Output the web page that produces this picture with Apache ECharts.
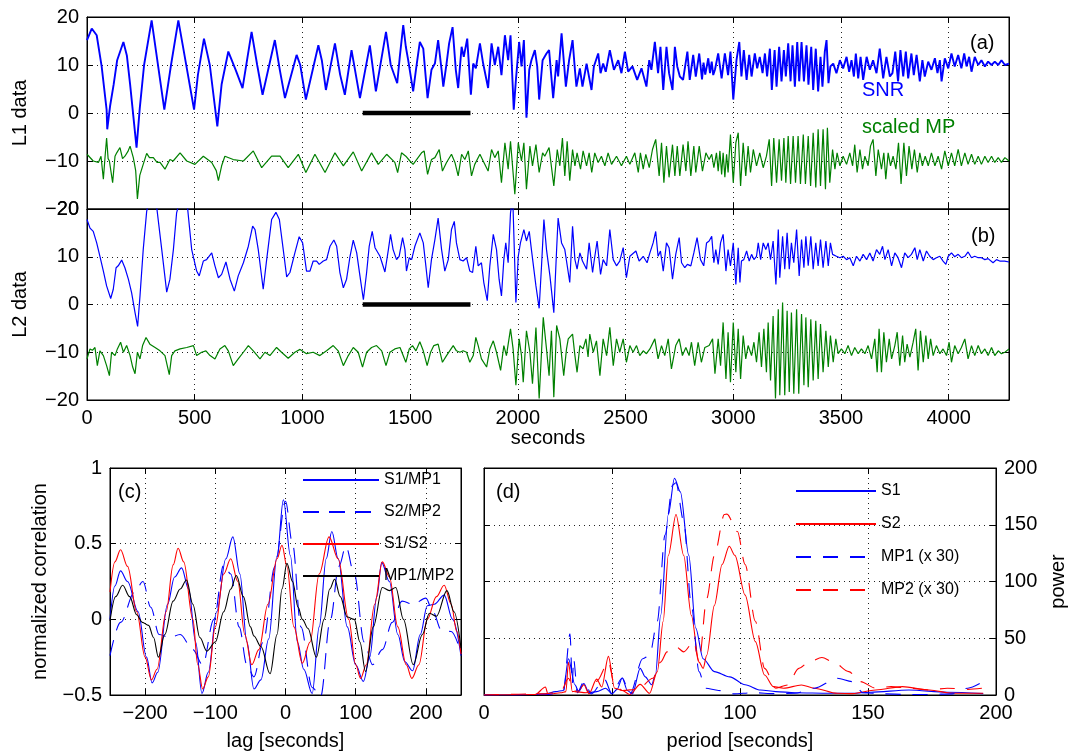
<!DOCTYPE html>
<html><head><meta charset="utf-8">
<script src="https://cdn.jsdelivr.net/npm/echarts@6/dist/echarts.min.js"></script>
<style>html,body{margin:0;padding:0;background:#fff}#c{width:1070px;height:756px}</style>
</head><body><div id="c"></div>
<script>
// ---------------- data ----------------
const X_MAX = 4280;
const WINDOW_L1 = [[1280,0],[1780,0]];
const WINDOW_L2 = [[1280,0],[1780,0]];

const L1_SNR = [[0,15.2],[22,17.6],[45,16.2],[68,9.7],[91,0.7],[94,-3.4],[107,1.4],[124,6.0],[140,11.0],[169,14.8],[185,12.0],[200,6.0],[230,-7.2],[245,1.0],[265,10.0],[300,19.3],[320,13.0],[359,0.7],[390,10.0],[424,19.3],[445,14.0],[497,0.7],[515,8.0],[543,15.5],[570,10.0],[605,-2.8],[625,6.0],[656,12.8],[690,9.0],[722,5.2],[764,16.9],[790,10.0],[815,3.8],[872,15.2],[895,9.0],[919,3.1],[973,12.1],[990,10.0],[1016,2.8],[1074,14.1],[1090,11.0],[1109,4.8],[1151,14.5],[1175,8.0],[1197,3.8],[1228,13.1],[1267,3.1],[1313,14.1],[1341,4.5],[1388,16.9],[1410,10.0],
[1440,6.2],[1452,11.7],[1468,18.3],[1480,13.8],[1491,11.0],[1514,4.5],[1527,9.0],[1545,14.8],[1561,13.4],[1568,9.7],[1581,3.1],[1599,9.0],[1615,10.3],[1630,15.2],[1646,9.0],[1654,5.5],[1669,10.3],[1681,14.5],[1697,17.9],[1712,9.0],[1723,5.2],[1739,13.8],[1749,11.7],[1765,15.5],[1782,3.8],[1793,10.3],[1805,9.3],[1824,14.5],[1839,10.3],[1862,5.2],[1878,14.5],[1893,10.0],[1909,13.8],[1924,7.9],[1940,16.2],[1955,11.0],[1966,16.2],[1981,0.7],[1991,6.9],[2006,14.8],[2017,9.7],[2028,15.2],[2040,-1.0],[2053,9.0],[2063,11.0],[2079,13.1],[2090,9.7],[2099,2.8],[2115,11.0],[2133,12.4],[2145,13.1],[2164,3.1],[2180,11.0],[2187,7.6],[2203,16.6],[2223,5.5],[2238,11.0],[2254,15.2],[2265,9.0],[2272,5.5],[2288,9.3],[2300,5.5],[2319,10.3],[2342,4.8],[2353,9.7],[2373,12.4],[2384,8.3],[2396,10.3],[2408,8.6],[2427,13.1],[2446,9.0],[2466,11.0],[2481,8.3],[2497,12.8],[2512,8.6],[2532,9.7],[2554,6.9],[2574,9.3],[2597,5.5],[2610,11.0],[2620,9.0],[2636,14.8],[2651,8.3],[2662,13.8],[2675,4.8],[2690,13.8],[2702,8.3],[2718,4.8],[2729,13.8],[2740,9.7],[2752,7.6],[2767,6.9],[2787,12.8],[2798,6.9],[2814,12.1],[2826,7.6],[2842,12.4],
[2855,7.0],[2862,10.5],[2870,8.0],[2884,11.4],[2892,8.3],[2900,10.7],[2907,7.9],[2915,9.0],[2930,12.4],[2946,7.2],[2961,12.4],[2976,7.9],[2987,12.8],[3000,2.8],[3015,11.0],[3028,14.8],[3038,7.6],[3049,13.1],[3062,6.9],[3074,12.1],[3085,7.6],[3100,12.4],[3111,9.3],[3123,11.7],[3136,8.3],[3147,12.4],[3157,7.6],[3170,13.4],[3179,4.8],[3192,13.1],[3201,5.5],[3213,13.8],[3224,6.6],[3235,13.1],[3244,7.6],[3255,14.5],[3266,6.6],[3275,14.1],[3286,5.5],[3297,14.8],[3306,6.6],[3317,14.8],[3328,6.6],[3340,14.1],[3349,5.9],[3362,13.8],[3371,4.8],[3383,13.4],[3394,4.5],[3405,11.7],[3414,5.5],[3425,12.8],[3433,15.2],[3442,6.2],[3451,9.7],[3464,10.3],[3479,8.3],[3495,11.0],[3510,9.3],[3526,11.7],[3538,8.6],[3549,11.0],[3560,7.6],[3569,12.4],[3580,7.2],[3591,11.7],[3603,6.9],[3619,11.7],[3634,9.0],[3649,11.0],[3665,8.3],[3680,13.4],[3696,7.2],[3711,11.7],[3727,7.6],[3739,8.3],[3752,12.8],[3765,6.6],[3776,13.1],[3789,7.6],[3801,12.8],[3812,7.2],[3827,12.4],[3838,7.9],[3851,12.1],[3866,6.6],[3878,11.0],[3889,7.6],[3905,10.7],[3920,9.0],[3936,11.4],[3948,8.3],[3959,11.0],[3967,6.6],[3982,11.4],[3998,9.3],[4013,12.4],[4028,9.7],[4044,12.1],[4059,9.3],[4072,12.4],[4083,9.7],[4095,11.7],[4106,8.6],[4121,11.7],[4137,10.0],[4152,11.0],[4168,9.7],[4183,10.7],[4199,10.0],[4214,10.7],[4230,10.0],[4245,11.0],[4261,10.0],[4280,10.3]];

const L1_MP = [[0,-8.6],[29,-10.0],[53,-10.3],[65,-9.0],[76,-13.8],[84,-9.0],[91,-5.2],[98,-9.5],[104,-10.0],[119,-14.5],[130,-9.0],[138,-8.3],[153,-7.2],[165,-9.5],[176,-9.0],[190,-8.0],[200,-6.9],[215,-9.3],[226,-12.0],[234,-17.9],[245,-13.0],[254,-11.7],[277,-8.4],[290,-9.3],[308,-9.3],[325,-10.3],[339,-10.3],[362,-11.7],[385,-9.7],[400,-10.0],[432,-8.3],[463,-10.0],[501,-10.7],[540,-9.0],[579,-10.3],[600,-12.0],[610,-14.1],[625,-11.0],[640,-9.0],[679,-9.7],[726,-10.0],[772,-7.9],[811,-11.4],[857,-9.0],[896,-9.0],[934,-11.4],[981,-8.6],[1016,-12.4],[1058,-8.6],[1105,-12.4],[1151,-8.3],[1190,-11.0],[1236,-8.1],[1275,-12.1],[1321,-8.3],[1352,-10.7],[1391,-8.6],[1429,-10.3],[1442,-12.4],[1460,-8.3],
[1480,-9.0],[1499,-10.0],[1514,-10.7],[1530,-9.7],[1553,-8.3],[1565,-7.9],[1581,-12.8],[1599,-9.7],[1615,-9.3],[1635,-7.6],[1650,-12.1],[1669,-10.3],[1692,-8.6],[1708,-10.3],[1723,-13.1],[1739,-8.6],[1754,-9.7],[1770,-7.9],[1785,-13.1],[1800,-10.7],[1824,-8.6],[1839,-10.0],[1862,-12.1],[1878,-7.6],[1893,-9.3],[1909,-7.9],[1924,-14.5],[1940,-6.2],[1955,-11.7],[1966,-5.9],[1986,-16.9],[2002,-6.2],[2017,-10.0],[2028,-6.2],[2040,-15.9],[2056,-6.9],[2068,-11.0],[2084,-6.6],[2099,-12.4],[2115,-8.3],[2125,-9.0],[2145,-7.2],[2167,-15.2],[2183,-7.6],[2195,-11.0],[2207,-5.2],[2218,-13.1],[2229,-5.9],[2241,-14.1],[2254,-7.6],[2265,-11.0],[2275,-8.3],[2291,-11.7],[2303,-7.9],[2319,-11.0],[2331,-8.3],[2343,-12.4],[2357,-8.3],[2373,-10.3],[2388,-9.0],[2404,-11.0],[2419,-8.3],[2435,-10.7],[2458,-9.0],[2481,-11.0],[2504,-9.0],[2520,-10.7],[2543,-8.3],[2559,-12.4],[2569,-8.3],[2582,-11.7],[2594,-8.6],[2610,-11.4],[2625,-7.6],[2640,-5.5],[2656,-13.1],[2667,-6.2],[2678,-14.5],[2690,-6.9],[2702,-13.4],[2718,-6.6],[2729,-13.1],[2740,-6.9],[2752,-13.1],[2767,-6.6],[2780,-12.1],[2790,-5.9],[2803,-13.1],[2817,-6.9],[2826,-12.4],[2842,-6.9],[2857,-12.1],[2873,-8.3],[2888,-9.7],
[2900,-8.6],[2910,-11.4],[2922,-8.3],[2930,-12.1],[2938,-7.9],[2946,-12.8],[2953,-8.3],[2961,-13.4],[2969,-8.6],[2976,-12.4],[2987,-4.5],[3000,-14.5],[3012,-6.2],[3023,-4.1],[3034,-15.2],[3046,-6.2],[3058,-13.1],[3069,-6.9],[3080,-12.4],[3093,-7.6],[3108,-11.0],[3123,-8.3],[3139,-11.4],[3154,-9.0],[3167,-5.5],[3178,-15.2],[3188,-5.2],[3201,-14.5],[3213,-5.5],[3224,-14.1],[3235,-5.2],[3244,-14.5],[3255,-4.8],[3266,-14.8],[3278,-4.8],[3289,-14.5],[3301,-4.8],[3312,-14.8],[3325,-4.5],[3335,-14.8],[3348,-4.8],[3359,-15.2],[3371,-4.1],[3383,-15.5],[3394,-3.4],[3405,-15.2],[3417,-3.4],[3428,-15.9],[3437,-3.1],[3448,-14.5],[3461,-7.6],[3472,-11.7],[3482,-8.3],[3495,-11.0],[3510,-9.0],[3526,-10.7],[3541,-8.3],[3554,-11.0],[3564,-6.6],[3575,-12.4],[3588,-7.6],[3600,-11.7],[3611,-9.0],[3626,-11.0],[3637,-6.9],[3649,-5.5],[3662,-13.1],[3673,-7.6],[3688,-11.7],[3699,-8.3],[3708,-13.8],[3719,-8.3],[3730,-11.0],[3742,-9.0],[3755,-11.7],[3767,-6.2],[3779,-14.8],[3792,-6.2],[3804,-13.1],[3816,-6.9],[3829,-11.7],[3841,-7.6],[3854,-12.4],[3866,-8.3],[3878,-11.0],[3891,-9.0],[3905,-11.0],[3920,-8.3],[3936,-11.0],[3951,-9.0],[3967,-11.7],[3982,-7.9],[3998,-11.0],[4013,-8.3],[4028,-11.0],[4044,-7.6],[4059,-11.0],[4075,-8.3],[4090,-10.7],[4106,-8.6],[4121,-10.7],[4137,-9.0],[4152,-10.7],[4168,-9.0],[4183,-10.3],[4199,-9.0],[4214,-10.3],[4230,-9.3],[4245,-10.3],[4261,-9.3],[4280,-10.0]];

const L2_SNR = [[0,17.8],[14,16.0],[29,15.3],[45,12.9],[60,10.1],[76,7.0],[91,3.9],[110,1.25],[122,3.2],[135,7.7],[145,8.1],[161,9.3],[176,7.7],[192,5.3],[207,2.5],[223,-1.7],[235,-4.6],[246,1.8],[261,11.5],[277,19.5],[300,24.0],[323,20.6],[347,11.5],[370,2.6],[385,5.3],[401,11.5],[416,19.2],[444,24.0],[466,20.6],[486,11.5],[509,7.0],[521,6.0],[540,9.1],[555,9.4],[579,10.8],[594,8.1],[610,5.6],[625,6.3],[645,8.9],[664,5.3],[684,2.8],[702,6.0],[726,8.75],[749,12.2],[769,16.4],[780,15.7],[795,11.5],[818,3.2],[834,9.4],[857,17.8],[877,19.3],[893,17.8],[911,11.5],[927,5.8],[942,6.7],[965,10.8],[985,14.2],[1001,12.9],[1019,7.0],[1035,7.0],[1050,9.1],[1066,9.1],[1078,8.4],[1097,9.1],[1112,9.4],[1128,12.2],[1146,13.5],[1159,12.2],[1174,6.7],[1190,3.5],[1205,5.3],[1221,10.1],[1236,13.5],[1252,10.8],[1267,6.0],[1283,1.0],[1298,6.7],[1310,12.2],[1324,15.3],[1337,11.9],[1360,10.1],[1383,6.8],[1399,11.5],[1409,14.7],[1421,11.5],
[1437,9.4],[1449,10.1],[1465,14.0],[1476,11.5],[1483,7.0],[1496,9.8],[1507,9.4],[1522,12.2],[1545,15.0],[1561,12.9],[1573,8.1],[1584,3.5],[1599,9.4],[1615,13.6],[1630,18.1],[1646,11.5],[1661,7.0],[1677,9.4],[1692,15.7],[1705,17.4],[1715,12.9],[1731,9.4],[1746,9.1],[1762,9.8],[1777,7.0],[1790,6.7],[1805,12.2],[1816,8.1],[1831,8.75],[1842,4.6],[1858,0.8],[1870,8.1],[1886,14.7],[1901,11.5],[1913,5.3],[1924,1.8],[1935,9.4],[1944,12.9],[1955,8.75],[1966,19.2],[1972,21.0],[1978,19.9],[1991,0.4],[2002,10.1],[2012,12.9],[2028,15.7],[2040,13.3],[2053,15.3],[2063,11.5],[2084,3.9],[2099,-0.8],[2110,8.1],[2121,17.8],[2133,11.5],[2149,6.0],[2167,-1.7],[2180,11.5],[2187,18.1],[2203,12.9],[2218,11.5],[2241,4.6],[2254,16.4],[2265,9.4],[2275,7.4],[2288,10.8],[2300,9.1],[2319,7.4],[2331,12.9],[2347,6.7],[2353,8.75],[2368,13.3],[2384,6.3],[2396,9.4],[2412,8.1],[2427,15.7],[2443,9.4],[2458,8.1],[2473,9.1],[2489,11.9],[2504,5.6],[2520,10.1],[2548,11.2],[2563,9.1],[2582,10.1],[2600,8.75],[2613,10.8],[2628,12.9],[2640,15.3],[2651,10.1],[2662,11.2],[2675,7.0],[2690,12.9],[2702,11.9],[2718,5.3],[2733,10.5],[2749,14.0],[2760,8.75],[2775,7.7],[2787,8.4],[2803,8.1],[2817,10.8],[2832,14.0],[2848,9.4],[2863,8.1],[2876,12.9],[2888,13.3],
[2900,14.3],[2910,8.75],[2919,11.5],[2930,8.4],[2941,12.9],[2953,14.7],[2966,7.0],[2976,11.5],[2987,8.1],[3000,12.9],[3012,4.2],[3023,11.9],[3031,4.6],[3038,9.1],[3049,9.4],[3062,11.2],[3074,9.1],[3085,10.5],[3096,9.4],[3108,10.1],[3116,12.9],[3127,9.4],[3139,12.9],[3151,11.5],[3162,12.9],[3173,9.4],[3185,13.3],[3198,4.2],[3209,15.7],[3216,5.6],[3229,14.3],[3239,7.4],[3250,15.0],[3260,7.4],[3270,12.9],[3281,8.75],[3294,15.7],[3306,6.0],[3317,13.6],[3328,7.7],[3337,14.3],[3348,8.1],[3360,14.3],[3371,7.4],[3383,12.9],[3394,8.1],[3405,13.6],[3417,7.7],[3430,13.3],[3441,8.1],[3451,12.9],[3461,10.5],[3479,10.1],[3495,9.8],[3510,10.1],[3526,9.4],[3541,9.8],[3557,8.1],[3572,10.1],[3588,9.1],[3603,10.5],[3619,9.4],[3634,10.8],[3649,9.1],[3665,11.5],[3680,10.5],[3693,12.2],[3704,9.4],[3719,11.5],[3735,8.1],[3750,10.8],[3765,9.8],[3781,7.7],[3796,10.8],[3812,9.8],[3827,10.5],[3843,11.9],[3854,9.4],[3866,11.5],[3882,9.1],[3897,11.2],[3912,10.1],[3928,9.4],[3943,9.8],[3959,10.1],[3974,9.1],[3987,8.4],[3998,10.1],[4013,10.8],[4028,10.0],[4044,10.5],[4059,9.8],[4075,10.1],[4090,11.0],[4106,9.8],[4121,10.1],[4137,9.8],[4152,9.8],[4168,9.4],[4183,9.6],[4206,8.75],[4222,9.4],[4237,9.1],[4260,9.1],[4280,8.9]];

const L2_MP = [[0,-11.4],[14,-9.3],[25,-9.6],[37,-9.0],[48,-12.8],[60,-9.7],[76,-10.7],[91,-12.8],[104,-14.9],[114,-10.0],[130,-10.7],[141,-9.3],[156,-7.9],[169,-10.0],[184,-8.6],[200,-10.7],[212,-13.1],[223,-14.5],[234,-10.0],[246,-11.4],[258,-8.6],[274,-6.9],[292,-8.3],[316,-9.0],[339,-9.7],[362,-10.7],[382,-14.7],[393,-10.7],[408,-9.7],[432,-9.3],[463,-9.0],[494,-8.6],[509,-10.7],[532,-10.0],[552,-9.7],[571,-10.7],[594,-11.4],[617,-9.3],[640,-8.6],[656,-9.7],[679,-12.8],[702,-11.4],[726,-10.0],[749,-8.6],[772,-9.7],[803,-11.4],[826,-10.0],[849,-10.7],[880,-9.0],[903,-10.0],[934,-11.25],[965,-10.0],[989,-9.4],[1019,-10.3],[1050,-10.0],[1081,-10.7],[1112,-9.7],[1143,-8.6],[1166,-9.7],[1190,-12.8],[1213,-10.7],[1236,-9.0],[1259,-10.0],[1279,-13.1],[1298,-10.0],[1321,-9.0],[1344,-8.6],[1368,-9.7],[1388,-12.8],[1406,-10.0],[1429,-9.3],[1453,-9.0],
[1460,-8.6],[1480,-12.1],[1496,-9.3],[1511,-8.6],[1527,-9.7],[1545,-7.8],[1561,-9.7],[1579,-12.8],[1595,-10.0],[1610,-8.6],[1630,-8.3],[1650,-12.1],[1669,-10.7],[1677,-10.3],[1700,-8.6],[1715,-9.7],[1731,-10.0],[1746,-9.7],[1762,-10.0],[1777,-12.1],[1793,-10.7],[1805,-6.9],[1816,-8.6],[1831,-11.4],[1855,-13.1],[1870,-9.3],[1886,-7.6],[1901,-10.0],[1920,-13.8],[1935,-8.6],[1947,-10.7],[1966,-5.1],[1978,-9.3],[1991,-16.9],[2006,-7.2],[2017,-10.7],[2025,-16.3],[2040,-5.5],[2056,-10.0],[2068,-16.6],[2084,-4.8],[2099,-19.7],[2118,-2.7],[2133,-9.3],[2145,-14.9],[2156,-5.5],[2167,-19.4],[2180,-4.4],[2195,-7.2],[2213,-14.9],[2226,-9.3],[2234,-7.2],[2254,-6.2],[2265,-10.7],[2275,-14.2],[2288,-8.6],[2303,-9.3],[2316,-7.2],[2326,-11.0],[2334,-6.2],[2350,-10.0],[2365,-7.6],[2381,-14.9],[2396,-7.2],[2412,-10.7],[2427,-4.8],[2443,-12.8],[2458,-7.2],[2473,-10.0],[2489,-7.2],[2504,-12.1],[2520,-8.6],[2535,-10.0],[2551,-8.6],[2566,-10.7],[2582,-9.7],[2597,-10.3],[2613,-9.3],[2636,-7.2],[2651,-11.4],[2667,-8.6],[2682,-10.7],[2698,-7.2],[2713,-13.5],[2733,-8.6],[2749,-7.2],[2764,-10.7],[2780,-9.0],[2795,-10.7],[2806,-7.9],[2821,-12.8],[2837,-7.9],[2852,-12.1],[2868,-9.0],[2888,-8.6],
[2904,-7.2],[2915,-14.5],[2930,-7.2],[2941,-12.8],[2953,-3.75],[2966,-15.6],[2976,-5.8],[2987,-16.3],[3000,-3.75],[3012,-14.2],[3023,-5.1],[3034,-15.6],[3046,-6.5],[3058,-11.4],[3069,-8.6],[3085,-10.7],[3096,-7.9],[3108,-12.1],[3120,-5.8],[3131,-13.1],[3142,-5.1],[3154,-14.2],[3162,-3.75],[3173,-15.9],[3185,-2.4],[3196,-19.7],[3209,-1.0],[3216,-19.0],[3229,0.4],[3239,-19.0],[3250,-1.3],[3260,-18.3],[3270,-1.7],[3281,-18.7],[3294,-1.0],[3304,-18.7],[3317,-2.0],[3328,-16.9],[3337,-2.7],[3348,-17.3],[3360,-3.1],[3371,-15.9],[3383,-3.4],[3394,-15.6],[3405,-4.1],[3417,-14.2],[3430,-5.5],[3441,-13.1],[3451,-6.5],[3464,-12.1],[3476,-7.2],[3487,-10.3],[3502,-9.3],[3518,-10.3],[3533,-8.6],[3549,-10.7],[3564,-9.0],[3580,-10.3],[3595,-9.3],[3611,-10.3],[3626,-8.6],[3642,-11.4],[3657,-7.2],[3668,-14.2],[3677,-5.1],[3688,-14.2],[3699,-5.8],[3711,-12.1],[3724,-7.2],[3735,-11.4],[3750,-8.6],[3761,-5.8],[3773,-12.8],[3786,-6.5],[3796,-12.1],[3807,-8.3],[3820,-11.0],[3835,-7.9],[3847,-5.1],[3858,-13.8],[3869,-5.5],[3882,-12.1],[3894,-6.5],[3905,-11.4],[3916,-7.2],[3928,-10.7],[3943,-8.6],[3959,-10.3],[3974,-9.3],[3990,-10.7],[4002,-7.9],[4013,-12.1],[4028,-8.6],[4044,-10.3],[4059,-9.0],[4075,-7.2],[4090,-11.4],[4106,-8.6],[4121,-10.7],[4137,-8.6],[4152,-10.3],[4168,-9.3],[4183,-10.7],[4199,-9.0],[4214,-10.7],[4230,-9.7],[4245,-10.3],[4261,-10.0],[4280,-9.3]];

// panel (c): lag [s], normalized correlation
const CORR_S1_MP1 = [[-250,0.0],[-243,0.22],[-235,0.32],[-225,0.25],[-210,0.05],[-198,-0.25],[-190,-0.42],[-182,-0.35],[-168,0.1],[-158,0.28],[-148,0.34],[-138,0.2],[-128,-0.15],[-119,-0.49],[-110,-0.35],[-98,0.05],[-85,0.4],[-75,0.545],[-65,0.3],[-55,-0.15],[-45,-0.46],[-35,-0.4],[-24,-0.13],[-12,0.42],[-3,0.79],[7,0.42],[17,-0.15],[26,-0.33],[38,-0.49],[48,-0.05],[58,0.4],[66,0.58],[75,0.4],[88,-0.05],[100,-0.3],[111,-0.41],[120,-0.25],[130,0.15],[137,0.375],[148,0.25],[160,-0.1],[170,-0.28],[181,-0.34],[192,-0.1],[202,0.09],[212,0.1],[226,0.16],[238,0.0],[250,-0.24]];
const CORR_S2_MP2 = [[-250,-0.24],[-235,-0.02],[-215,0.18],[-203,0.25],[-192,0.08],[-180,-0.1],[-165,-0.12],[-150,-0.1],[-132,-0.2],[-118,-0.3],[-102,0.0],[-88,0.36],[-78,0.3],[-66,-0.05],[-55,-0.3],[-45,-0.38],[-32,-0.15],[-15,0.35],[0,0.78],[10,0.5],[22,-0.05],[38,-0.45],[50,-0.51],[64,0.0],[76,0.35],[86,0.48],[98,0.3],[112,-0.15],[124,-0.3],[138,-0.2],[152,-0.02],[166,0.12],[182,0.1],[200,0.14],[210,0.05],[222,-0.07],[236,-0.08],[250,-0.22]];
const CORR_S1_S2 = [[-250,0.18],[-243,0.38],[-235,0.46],[-225,0.35],[-212,0.05],[-200,-0.25],[-191,-0.4],[-183,-0.33],[-170,0.05],[-160,0.36],[-153,0.47],[-145,0.38],[-132,0.0],[-125,-0.3],[-118,-0.46],[-110,-0.38],[-100,-0.05],[-88,0.3],[-78,0.4],[-68,0.25],[-58,-0.1],[-48,-0.3],[-38,-0.2],[-25,0.1],[-12,0.4],[-5,0.49],[2,0.35],[12,-0.05],[24,-0.29],[35,-0.15],[48,0.3],[62,0.545],[75,0.4],[90,0.0],[100,-0.3],[107,-0.39],[115,-0.3],[127,0.1],[138,0.38],[148,0.28],[160,-0.05],[172,-0.3],[180,-0.39],[190,-0.3],[202,0.0],[215,0.15],[226,0.225],[236,0.1],[244,-0.08],[250,-0.23]];
const CORR_MP1_MP2 = [[-250,-0.01],[-242,0.15],[-232,0.225],[-222,0.15],[-212,0.03],[-204,-0.02],[-195,-0.04],[-188,-0.12],[-181,-0.25],[-172,-0.1],[-160,0.12],[-150,0.2],[-141,0.26],[-132,0.1],[-122,-0.12],[-112,-0.21],[-100,-0.15],[-88,0.05],[-78,0.2],[-70,0.29],[-60,0.15],[-50,-0.05],[-45,-0.11],[-35,-0.18],[-22,-0.36],[-12,-0.1],[-5,0.2],[2,0.37],[10,0.25],[18,0.08],[24,0.0],[32,-0.06],[44,-0.25],[55,0.0],[63,0.2],[70,0.265],[78,0.15],[88,0.015],[98,0.0],[106,-0.15],[114,-0.345],[125,-0.05],[138,0.21],[148,0.19],[157,0.21],[168,0.0],[182,-0.3],[195,-0.1],[205,0.04],[215,0.02],[230,0.19],[240,0.05],[250,-0.19]];

// panel (d): period [s], power
const POW_S1 = [[0,0],[10,0],[20,0.5],[24,1],[28,3],[31,4],[33,32],[35.5,9],[37,3],[39,10],[41,2],[44,3],[47.5,6],[50,1],[52,5],[54,15],[56,4],[58,1],[61,23.5],[63,16],[65.5,9],[67,18],[69,70],[72,159],[74.4,191],[76.7,179],[80,123],[82.7,59],[85.6,32],[90,20.6],[96,16],[102,9],[108,4.4],[114,3],[121.5,2],[135,1.5],[144,1.5],[151,2.4],[166,4.4],[181,2.4],[195,1.2]];
const POW_S2 = [[0,0],[20,0.5],[24,7],[25,0.5],[30,2],[32,3],[33,29],[34.5,3],[37,4],[39,9],[41,1],[44,14],[46,7],[48.6,34],[51,6],[54,4],[57,0.5],[61,9.4],[64.7,1.5],[67.7,20.6],[70,65],[72,123],[75,159],[78,123],[81,70],[84,29],[85.6,23.5],[87,35],[90,79],[93,115],[95.8,131],[98,123],[102,88],[106,47],[109.6,17.6],[113,7.4],[117,6],[124,8.8],[129,6],[138,1.5],[144,1.2],[153,4.4],[163.4,7.4],[174,4.4],[183,1.5],[195,1.5]];
const POW_MP1_X30 = [[0,0],[25,0.5],[31,3],[33.6,54],[34.5,10],[35,32],[36.5,2],[39,12],[42,1],[47,14],[50,1],[54,15],[57,0.5],[62,32],[64.7,35],[67.7,65],[70.7,141],[73.7,185],[75,187],[78,153],[81,79],[84,20.6],[86.4,6],[91.6,4],[97.6,1],[105,2],[114,1.2],[121.5,1.5],[129,6],[138,14.7],[144,11.8],[148,2],[156,1],[165,0.5],[174,0.5],[183,1],[189,6],[195,11.8]];
const POW_MP2_X30 = [[0,0],[24,1],[30,3],[33,14.7],[35,3],[40,2],[44,12],[48.6,29],[51,9],[54,4],[60,5],[66,14.7],[69,29],[71.5,38],[75,42.6],[78,38],[81.9,47],[84,29],[87,85],[90,123],[93.9,159],[94.9,159.4],[99,144],[102,115],[106,65],[109.6,23.5],[114,6],[118.5,8.8],[123,23.5],[127,29],[132,33],[136.5,29],[142.5,20.6],[147,11.8],[153,6],[159,7.4],[166,6],[174,4.4],[181,6],[189,5],[195,6]];

// ---------------- chart ----------------
const FONT = '"Liberation Sans", Arial, Helvetica, sans-serif';
const fmtNum = v => (v < 0 ? '\u2212' + Math.abs(v) : String(v));
const dotted = {show: true, lineStyle: {color: '#222', width: 1, type: [1, 4]}};
const AX_LINE = {show: true, onZero: false, lineStyle: {color: '#000', width: 1}};
const TICK_IN = {show: true, inside: true, length: 6, lineStyle: {color: '#000', width: 1}};
const LBL = (extra) => Object.assign({show: true, color: '#000', fontSize: 20, fontFamily: FONT, margin: 8}, extra || {});
const NAME_STYLE = {color: '#000', fontSize: 20, fontFamily: FONT};

function vAxis(o) {
  return Object.assign({type: 'value', axisLine: AX_LINE, axisTick: TICK_IN,
    splitLine: {show: false}, axisLabel: {show: false}}, o);
}

const xAxes = [
  vAxis({gridIndex: 0, min: 0, max: X_MAX, interval: 500, splitLine: dotted}),
  vAxis({gridIndex: 0, position: 'top', min: 0, max: X_MAX, interval: 500}),
  vAxis({gridIndex: 1, min: 0, max: X_MAX, interval: 500, splitLine: dotted,
    axisLabel: LBL({formatter: v => (v % 500 === 0 ? String(v) : '')}),
    name: 'seconds', nameLocation: 'middle', nameGap: 27, nameTextStyle: NAME_STYLE}),
  vAxis({gridIndex: 1, position: 'top', min: 0, max: X_MAX, interval: 500}),
  vAxis({gridIndex: 2, min: -250, max: 250, splitNumber: 5, splitLine: dotted,
    axisLabel: LBL({formatter: v => (v % 100 === 0 ? fmtNum(v) : '')}),
    name: 'lag [seconds]', nameLocation: 'middle', nameGap: 36, nameTextStyle: NAME_STYLE}),
  vAxis({gridIndex: 2, position: 'top', min: -250, max: 250, splitNumber: 5}),
  vAxis({gridIndex: 3, min: 0, max: 200, interval: 50, splitLine: dotted,
    axisLabel: LBL({formatter: v => String(v)}),
    name: 'period [seconds]', nameLocation: 'middle', nameGap: 36, nameTextStyle: NAME_STYLE}),
  vAxis({gridIndex: 3, position: 'top', min: 0, max: 200, interval: 50})
];

const yAxes = [
  vAxis({gridIndex: 0, min: -20, max: 20, interval: 10, splitLine: dotted,
    axisLabel: LBL({formatter: fmtNum}), name: 'L1 data', nameLocation: 'middle', nameGap: 57, nameTextStyle: NAME_STYLE}),
  vAxis({gridIndex: 0, position: 'right', min: -20, max: 20, interval: 10}),
  vAxis({gridIndex: 1, min: -20, max: 20, interval: 10, splitLine: dotted,
    axisLabel: LBL({formatter: fmtNum}), name: 'L2 data', nameLocation: 'middle', nameGap: 57, nameTextStyle: NAME_STYLE}),
  vAxis({gridIndex: 1, position: 'right', min: -20, max: 20, interval: 10}),
  vAxis({gridIndex: 2, min: -0.5, max: 1, interval: 0.5, splitLine: dotted,
    axisLabel: LBL({formatter: fmtNum}), name: 'normalized correlation', nameLocation: 'middle', nameGap: 60, nameTextStyle: NAME_STYLE}),
  vAxis({gridIndex: 2, position: 'right', min: -0.5, max: 1, interval: 0.5}),
  vAxis({gridIndex: 3, position: 'right', min: 0, max: 200, interval: 50, splitLine: dotted,
    axisLabel: LBL({formatter: v => String(v)}), name: 'power', nameLocation: 'middle', nameGap: 52, nameRotate: 90, nameTextStyle: NAME_STYLE}),
  vAxis({gridIndex: 3, position: 'left', min: 0, max: 200, interval: 50})
];

function lineS(name, data, xi, yi, color, width, extra) {
  return Object.assign({name: name, type: 'line', data: data, xAxisIndex: xi, yAxisIndex: yi,
    symbol: 'none', showSymbol: false, clip: true, animation: false,
    lineStyle: {color: color, width: width}, itemStyle: {color: color}}, extra || {});
}

const BLUE = '#0000ff', GREEN = '#008000', RED = '#ff0000', BLACK = '#000000';
const series = [
  lineS('L1 SNR', L1_SNR, 0, 0, BLUE, 1.9),
  lineS('L1 MP', L1_MP, 0, 0, GREEN, 1.2),
  lineS('L1 window', WINDOW_L1, 0, 0, BLACK, 4.5),
  lineS('L2 SNR', L2_SNR, 2, 2, BLUE, 1.2),
  lineS('L2 MP', L2_MP, 2, 2, GREEN, 1.2),
  lineS('L2 window', WINDOW_L2, 2, 2, BLACK, 4.5),
  lineS('S1/MP1', CORR_S1_MP1, 4, 4, BLUE, 1.1, {smooth: 0.35, smoothMonotone: 'x'}),
  lineS('S2/MP2', CORR_S2_MP2, 4, 4, BLUE, 1.1, {smooth: 0.35, smoothMonotone: 'x', lineStyle: {color: BLUE, width: 1.1, type: [16, 10]}}),
  lineS('S1/S2', CORR_S1_S2, 4, 4, RED, 1.1, {smooth: 0.35, smoothMonotone: 'x'}),
  lineS('MP1/MP2', CORR_MP1_MP2, 4, 4, BLACK, 1.1, {smooth: 0.35, smoothMonotone: 'x'}),
  lineS('S1', POW_S1, 6, 6, BLUE, 1.1, {smooth: 0.3, smoothMonotone: 'x'}),
  lineS('S2', POW_S2, 6, 6, RED, 1.1, {smooth: 0.3, smoothMonotone: 'x'}),
  lineS('MP1 (x 30)', POW_MP1_X30, 6, 6, BLUE, 1.1, {smooth: 0.3, smoothMonotone: 'x', lineStyle: {color: BLUE, width: 1.1, type: [15, 12]}}),
  lineS('MP2 (x 30)', POW_MP2_X30, 6, 6, RED, 1.1, {smooth: 0.3, smoothMonotone: 'x', lineStyle: {color: RED, width: 1.1, type: [15, 12]}})
];

const gridBase = {show: true, borderColor: '#000', borderWidth: 1, backgroundColor: 'transparent', containLabel: false};
const txt = (t, left, top, color) => ({type: 'text', left: left, top: top, z: 100,
  style: {text: t, fill: color || '#000', fontSize: 20, fontFamily: FONT}});
const legendCommon = {orient: 'vertical', itemHeight: 14, padding: 0, selectedMode: false,
  itemStyle: {opacity: 0}, textStyle: {color: '#000', fontSize: 16, fontFamily: FONT}};

const option = {
  animation: false,
  backgroundColor: '#fff',
  textStyle: {fontFamily: FONT},
  grid: [
    Object.assign({left: 87, top: 17, width: 922, height: 192}, gridBase),
    Object.assign({left: 87, top: 209, width: 922, height: 191}, gridBase),
    Object.assign({left: 110, top: 468, width: 351, height: 227}, gridBase),
    Object.assign({left: 484, top: 468, width: 512, height: 227}, gridBase)
  ],
  xAxis: xAxes,
  yAxis: yAxes,
  legend: [
    Object.assign({data: ['S1/MP1', 'S2/MP2', 'S1/S2', 'MP1/MP2'], left: 302, top: 472, itemWidth: 76, itemGap: 16}, legendCommon),
    Object.assign({data: ['S1', 'S2', 'MP1 (x 30)', 'MP2 (x 30)'], left: 795, top: 483, itemWidth: 80, itemGap: 17}, legendCommon)
  ],
  graphic: [
    txt('(a)', 970, 33), txt('(b)', 971, 226),
    txt('SNR', 862, 80, BLUE), txt('scaled MP', 862, 117, GREEN),
    txt('(c)', 118, 482), txt('(d)', 496, 482)
  ],
  series: series
};

const chart = echarts.init(document.getElementById('c'), null, {renderer: 'canvas'});
chart.setOption(option);
</script></body></html>
